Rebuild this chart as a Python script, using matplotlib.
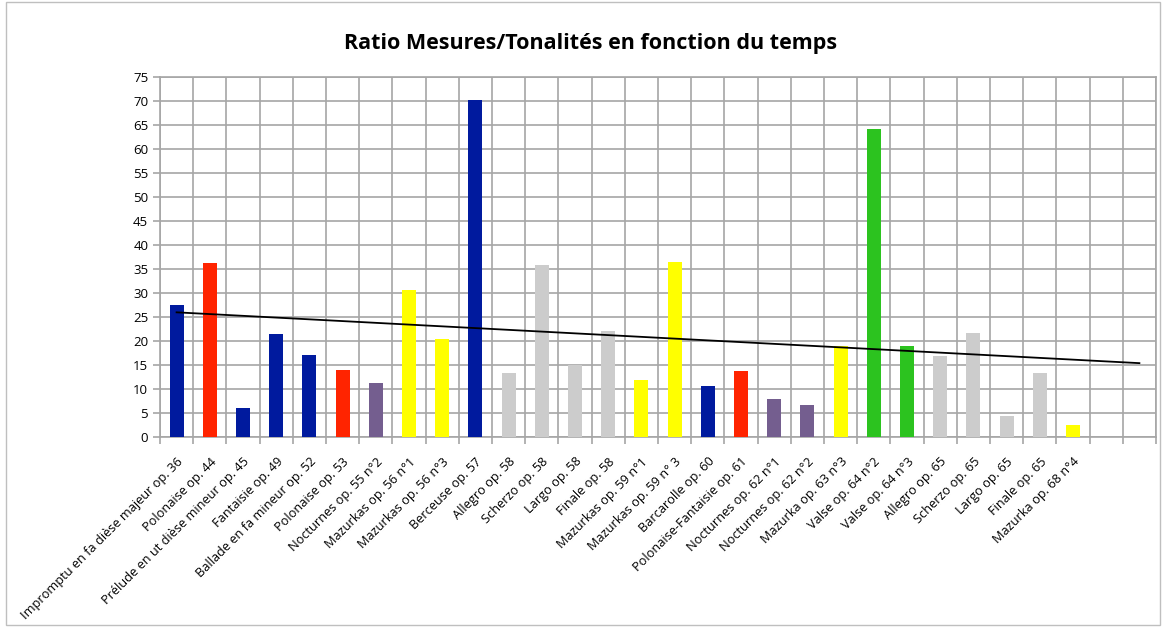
import matplotlib
matplotlib.use("Agg")
import matplotlib.pyplot as plt
import numpy as np

# Pieces in chronological order
pieces = [
    "Impromptu en fa dièse majeur op. 36", "Polonaise op. 44",
    "Prélude en ut dièse mineur op. 45", "Fantaisie op. 49",
    "Ballade en fa mineur op. 52", "Polonaise op. 53", "Nocturnes op. 55 n°2",
    "Mazurkas op. 56 n°1", "Mazurkas op. 56 n°3", "Berceuse op. 57",
    "Allegro op. 58", "Scherzo op. 58", "Largo op. 58", "Finale op. 58",
    "Mazurkas op. 59 n°1", "Mazurkas op. 59 n° 3", "Barcarolle op. 60",
    "Polonaise-Fantaisie op. 61", "Nocturnes op. 62 n°1", "Nocturnes op. 62 n°2",
    "Mazurka op. 63 n°3", "Valse op. 64 n°2", "Valse op. 64 n°3",
    "Allegro op. 65", "Scherzo op. 65", "Largo op. 65", "Finale op. 65",
    "Mazurka op. 68 n°4",
]
ratios = [27.5, 36.3, 6.0, 21.4, 17.1, 13.9, 11.2, 30.6, 20.4, 70.2,
          13.4, 35.8, 15.0, 22.1, 11.9, 36.5, 10.6, 13.75, 7.9, 6.7,
          19.0, 64.2, 19.0, 16.9, 21.7, 4.4, 13.3, 2.5]
genres = ["blue", "red", "blue", "blue", "blue", "red", "purple",
          "yellow", "yellow", "blue", "gray", "gray", "gray", "gray",
          "yellow", "yellow", "blue", "red", "purple", "purple",
          "yellow", "green", "green", "gray", "gray", "gray", "gray", "yellow"]
n_slots = 30  # two empty categories at the end

palette = {"blue": "#001A9E", "red": "#FF2400", "purple": "#745E8F",
           "yellow": "#FFFF00", "gray": "#CCCCCC", "green": "#2CC31F"}

plt.rcParams['font.family'] = ['Open Sans', 'DejaVu Sans']

fig = plt.figure(figsize=(11.64, 6.27), dpi=100)
ax = fig.add_axes([160 / 1164, 1 - 437 / 627, 996 / 1164, 360 / 627])

x = np.arange(1, len(ratios) + 1)
ax.bar(x, ratios, width=0.42, color=[palette[g] for g in genres], zorder=3)

# linear trend, forecast forward to the last slot
a, b = np.polyfit(x, ratios, 1)
xt = np.array([1, n_slots])
ax.plot(xt, a * xt + b, color="black", lw=1.3, zorder=4)

ax.set_xlim(0.5, n_slots + 0.5)
ax.set_ylim(0, 75)
ax.set_yticks(np.arange(0, 76, 5))
ax.set_xticks(x)
ax.set_xticklabels(pieces, rotation=45, ha="right", rotation_mode="anchor",
                   fontsize=9.2)
ax.set_xticks(np.arange(0.5, n_slots + 1, 1), minor=True)
ax.tick_params(axis="x", which="major", length=0, pad=13)
ax.tick_params(axis="x", which="minor", length=5, color="#a6a6a6", width=1.2)
ax.tick_params(axis="y", length=5, color="#a6a6a6", width=1.2, labelsize=9.5)

ax.grid(axis="y", color="#a6a6a6", lw=1.2, zorder=0)
ax.grid(axis="x", which="minor", color="#a6a6a6", lw=1.2, zorder=0)
for s in ax.spines.values():
    s.set_color("#a6a6a6")
    s.set_linewidth(1.2)

fig.text(0.507, 0.931, "Ratio Mesures/Tonalités en fonction du temps",
         ha="center", va="center", fontsize=15.5, fontweight="bold")

fig.patches.append(plt.Rectangle((6 / 1164, 2 / 627), 1154 / 1164, 623 / 627,
                                 transform=fig.transFigure, fill=False,
                                 edgecolor="#bfbfbf", lw=1))

fig.savefig("out.png", dpi=100)
